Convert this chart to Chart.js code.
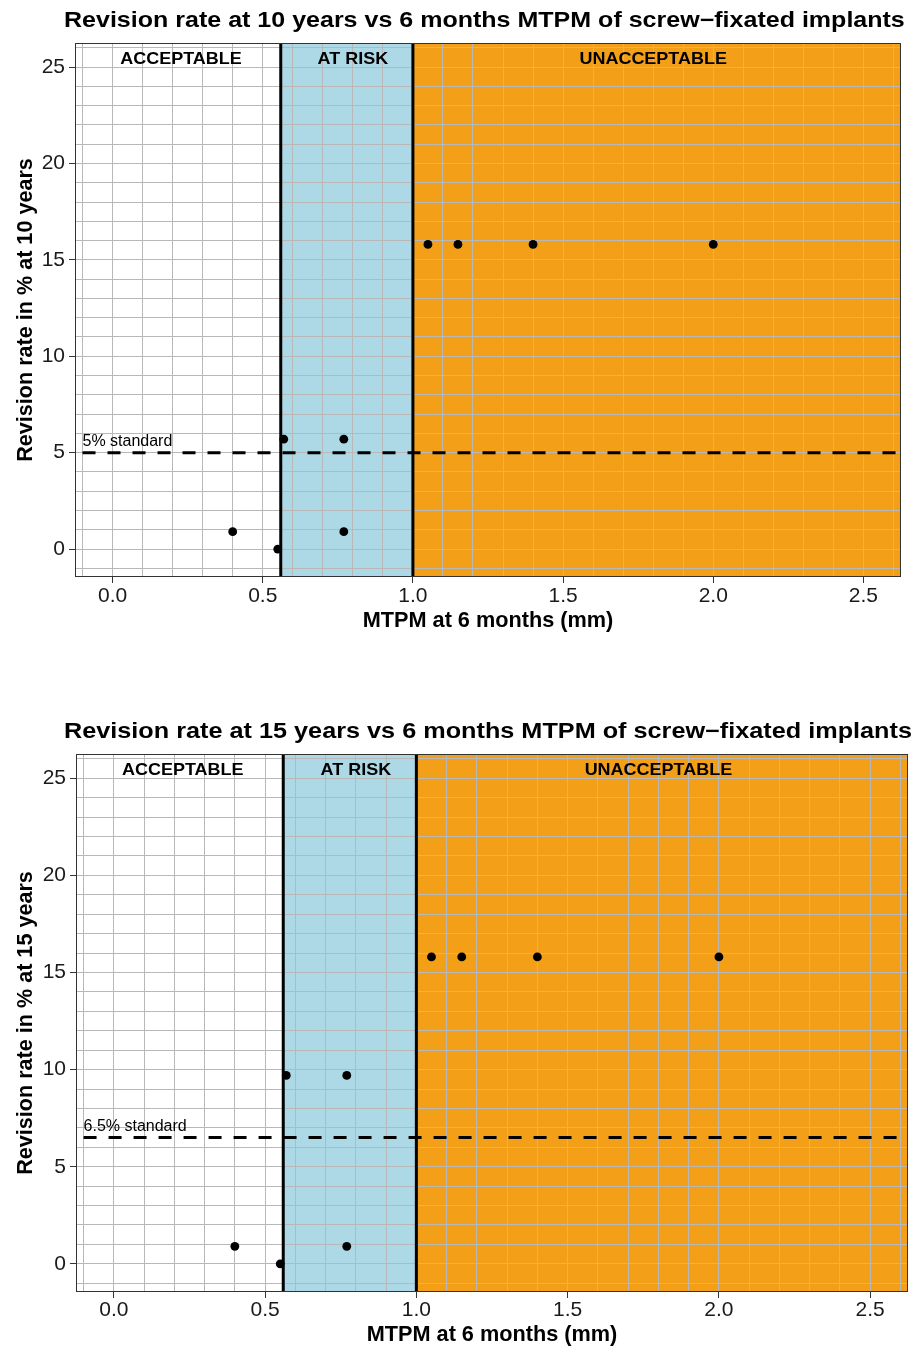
<!DOCTYPE html>
<html>
<head>
<meta charset="utf-8">
<script src="https://cdn.jsdelivr.net/npm/chart.js@4.4.1/dist/chart.umd.min.js"></script>
<style>
  html, body { margin: 0; padding: 0; background: #fff; overflow: hidden; }
  .wrap { position: absolute; left: 0; width: 914px; }
</style>
</head>
<body>
<div class="wrap" style="top:0"><canvas id="c10" width="914" height="650"></canvas></div>
<div class="wrap" style="top:700px"><canvas id="c15" width="914" height="649"></canvas></div>
<script>
'use strict';
// values
const mtpm  = [0.40, 0.55, 0.57, 0.77, 0.77, 1.05, 1.15, 1.40, 2.00];
const rev10 = [0.9, 0.0, 5.7, 5.7, 0.9, 15.8, 15.8, 15.8, 15.8];
const rev15 = [0.9, 0.0, 9.7, 9.7, 0.9, 15.8, 15.8, 15.8, 15.8];
const zoneNames  = ['ACCEPTABLE', 'AT RISK', 'UNACCEPTABLE'];
const zoneLabelX = [0.228, 0.80, 1.80];
const zoneEdges  = [0.56, 1.0];
const standards  = [5, 6.5];
const standardLabels = ['5% standard', '6.5% standard'];
const titles = [
  'Revision rate at 10 years vs 6 months MTPM of screw\u2212fixated implants',
  'Revision rate at 15 years vs 6 months MTPM of screw\u2212fixated implants'
];
const yTitles = ['Revision rate in % at 10 years', 'Revision rate in % at 15 years'];
const xTitle = 'MTPM at 6 months (mm)';

const FONT = '"Liberation Sans", Arial, Helvetica, sans-serif';
const ZONE_COLORS = ['#ffffff', '#ADD8E6', '#F39F18'];
const isStep = (v, s) => Math.abs(v / s - Math.round(v / s)) < 1e-6;

// the source picture is a little wider than tall, so its text is drawn stretched
function wideText(ctx, text, x, y, sx, align) {
  ctx.save();
  ctx.translate(x, y);
  ctx.scale(sx, 1);
  ctx.textAlign = align;
  ctx.fillText(text, 0, 0);
  ctx.restore();
}

const zones = {
  id: 'zones',
  beforeDraw(chart, args, o) {
    const { ctx, chartArea: a, scales: { x } } = chart;
    const e0 = x.getPixelForValue(zoneEdges[0]);
    const e1 = x.getPixelForValue(zoneEdges[1]);
    ctx.save();
    ctx.fillStyle = ZONE_COLORS[0]; ctx.fillRect(a.left, a.top, e0 - a.left, a.height);
    ctx.fillStyle = ZONE_COLORS[1]; ctx.fillRect(e0, a.top, e1 - e0, a.height);
    ctx.fillStyle = ZONE_COLORS[2]; ctx.fillRect(e1, a.top, a.right - e1, a.height);
    ctx.restore();
  },
  beforeDatasetsDraw(chart, args, o) {
    const { ctx, chartArea: a, scales: { x, y } } = chart;
    ctx.save();
    // zone edges
    ctx.strokeStyle = '#000'; ctx.lineWidth = 3;
    zoneEdges.forEach(v => {
      const px = x.getPixelForValue(v);
      ctx.beginPath(); ctx.moveTo(px, a.top); ctx.lineTo(px, a.bottom); ctx.stroke();
    });
    // standard line
    const sy = y.getPixelForValue(o.standard);
    ctx.setLineDash([13, 12]);
    ctx.beginPath(); ctx.moveTo(x.getPixelForValue(-0.1), sy); ctx.lineTo(a.right, sy); ctx.stroke();
    ctx.setLineDash([]);
    ctx.fillStyle = '#000';
    ctx.font = '16px ' + FONT;
    ctx.textBaseline = 'alphabetic';
    wideText(ctx, o.stdLabel, x.getPixelForValue(-0.1), sy - 7, 1, 'left');
    // zone names
    ctx.font = 'bold 16.5px ' + FONT;
    zoneNames.forEach((n, i) => {
      wideText(ctx, n, x.getPixelForValue(zoneLabelX[i]), y.getPixelForValue(25.48) + 6, 1.09, 'center');
    });
    ctx.restore();
  },
  afterDraw(chart, args, o) {
    const { ctx, chartArea: a } = chart;
    ctx.save();
    ctx.strokeStyle = '#333'; ctx.lineWidth = 1;
    ctx.strokeRect(a.left + 0.5, a.top + 0.5, a.width - 1, a.height - 1);
    ctx.fillStyle = '#000';
    ctx.font = 'bold 21.4px ' + FONT;
    ctx.textBaseline = 'alphabetic';
    wideText(ctx, o.title, 64, o.titleY, o.titleSx, 'left');
    ctx.restore();
  }
};

function makeChart(id, k, lay) {
  const rev = k === 0 ? rev10 : rev15;
  return new Chart(document.getElementById(id), {
    type: 'scatter',
    data: {
      datasets: [{
        data: mtpm.map((v, i) => ({ x: v, y: rev[i] })),
        backgroundColor: '#000', borderWidth: 0, pointRadius: 4.4, pointHoverRadius: 4.4
      }]
    },
    options: {
      responsive: false, animation: false,
      layout: { padding: { left: 0, top: lay.top, right: lay.right, bottom: 0 } },
      plugins: {
        legend: { display: false }, tooltip: { enabled: false },
        zones: { title: titles[k], titleY: lay.titleY, titleSx: lay.titleSx, standard: standards[k], stdLabel: standardLabels[k] }
      },
      scales: {
        x: {
          type: 'linear', min: -0.125, max: 2.625,
          afterFit: s => { s.height = lay.xh; },
          ticks: {
            stepSize: 0.1, includeBounds: false, autoSkip: false, maxRotation: 0, minRotation: 0,
            padding: lay.xpad, color: '#1a1a1a', font: { size: 21, family: FONT },
            callback: v => isStep(v, 0.5) ? (Math.round(v * 2) / 2).toFixed(1) : ''
          },
          grid: {
            color: '#b8b8b8', lineWidth: 1, tickLength: 6,
            tickColor: c => (c.tick && isStep(c.tick.value, 0.5)) ? '#333' : 'rgba(0,0,0,0)'
          },
          border: { display: false },
          title: {
            display: true, text: xTitle, color: '#000',
            font: { size: 21.7, weight: 'bold', family: FONT },
            padding: { top: 0, bottom: lay.xtb }
          }
        },
        y: {
          type: 'linear', min: -1.45, max: 26.25,
          afterFit: s => { s.width = lay.yw; },
          ticks: {
            stepSize: 1, includeBounds: false, autoSkip: false,
            padding: 4, color: '#1a1a1a', font: { size: 21, family: FONT },
            callback: v => isStep(v, 5) ? String(Math.round(v)) : ''
          },
          grid: {
            color: '#b8b8b8', lineWidth: 1, tickLength: 6,
            tickColor: c => (c.tick && isStep(c.tick.value, 5)) ? '#333' : 'rgba(0,0,0,0)'
          },
          border: { display: false },
          title: {
            display: true, text: yTitles[k], color: '#000',
            font: { size: 21.6, weight: 'bold', family: FONT },
            padding: { top: 13, bottom: 0 }
          }
        }
      }
    },
    plugins: [zones]
  });
}

makeChart('c10', 0, { top: 43, right: 13, yw: 75, xh: 73, xpad: 1, xtb: 15.6, titleY: 27.3, titleSx: 1.17 });
makeChart('c15', 1, { top: 54, right: 6, yw: 76, xh: 57, xpad: 0, xtb: 0.9, titleY: 37.5, titleSx: 1.18 });
</script>
</body>
</html>
